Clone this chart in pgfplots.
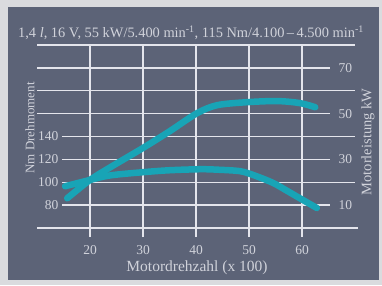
\documentclass[border=0pt]{standalone}
\usepackage{pgfplots}
\pgfplotsset{compat=1.18}
\usepackage{fontspec}
\setmainfont{Liberation Serif}
\definecolor{panel}{RGB}{92,99,119}
\definecolor{outer}{RGB}{218,219,222}
\definecolor{gridc}{RGB}{228,229,236}
\definecolor{txt}{RGB}{208,210,218}
\definecolor{curve}{RGB}{24,164,182}
\begin{document}
\begin{tikzpicture}[x=1pt,y=1pt]
\useasboundingbox (0,0) rectangle (382,285);
\fill[outer] (0,0) rectangle (382,285);
\fill[panel] (8,5) rectangle (379,278);
\node[text=txt,font=\fontsize{14.4}{16}\selectfont] at (191,252) {1,4 \textit{l}, 16 V, 55 kW/5.400 min\textsuperscript{-1}, 115 Nm/4.100\,--\,4.500 min\textsuperscript{-1}};
\node[text=txt,rotate=90,font=\fontsize{13}{15}\selectfont] at (30,157) {Nm Drehmoment};
\node[text=txt,rotate=90,font=\fontsize{14.5}{15}\selectfont] at (368,143) {Motorleistung kW};
\node[text=txt,font=\fontsize{15.5}{17}\selectfont] at (197,17) {Motordrehzahl (x 100)};
\begin{axis}[
  at={(37pt,57pt)}, anchor=south west,
  scale only axis, width=318pt, height=183pt,
  xmin=10, xmax=70, ymin=60, ymax=220,
  axis line style={draw=none}, tick style={draw=none}, clip=false,
  xtick={20,30,40,50,60}, ytick={80,100,120,140},
  xtick pos=bottom, ytick pos=left,
  major tick length=0pt,
  /pgf/number format/assume math mode=true,
  ticklabel style={text=txt,font=\fontsize{13.5}{15}\selectfont},
  yticklabel style={xshift=25pt},
  xticklabel style={yshift=-14pt},
]
\foreach \y/\a/\b in {60/10/70.5,80/14.7/65.3,100/14.7/70,120/14.7/65.3,140/14.7/70,160/10/65.3,180/10/70,200/10/65.3,220/10/70}{
  \edef\tmp{\noexpand\draw[gridc,line width=1.4pt] (axis cs:\a,\y) -- (axis cs:\b,\y);}\tmp
}
\foreach \x in {20,30,40,50,60}{
  \edef\tmp{\noexpand\draw[gridc,line width=1.4pt] (axis cs:\x,52) -- (axis cs:\x,220);}\tmp
}
\addplot[curve, line width=6.5pt, smooth, line cap=round] coordinates {
(15.3,96.5) (20,102) (23.8,106) (30,108.8) (35,110.5) (40.8,111.4) (44,111)
(48.3,109.7) (51,106) (54.5,99.5) (57,93) (59.6,86) (62.8,77.5)};
\end{axis}
\begin{axis}[
  at={(37pt,57pt)}, anchor=south west,
  scale only axis, width=318pt, height=183pt,
  xmin=10, xmax=70, ymin=0, ymax=80,
  axis line style={draw=none}, tick style={draw=none}, clip=false,
  xtick=\empty, ytick={10,30,50,70},
  ytick pos=right, yticklabel pos=right,
  major tick length=0pt,
  /pgf/number format/assume math mode=true,
  ticklabel style={text=txt,font=\fontsize{13.5}{15}\selectfont},
  yticklabel style={xshift=-20pt},
]
\addplot[curve, line width=6.5pt, smooth, line cap=round] coordinates {
(15.7,13) (20,21) (23.8,26.5) (30,35) (35.1,42.4) (40.2,50.2) (44,53.7)
(49.6,55) (55.3,55.5) (59.6,54.6) (62.5,52.8)};
\end{axis}
\end{tikzpicture}
\end{document}
